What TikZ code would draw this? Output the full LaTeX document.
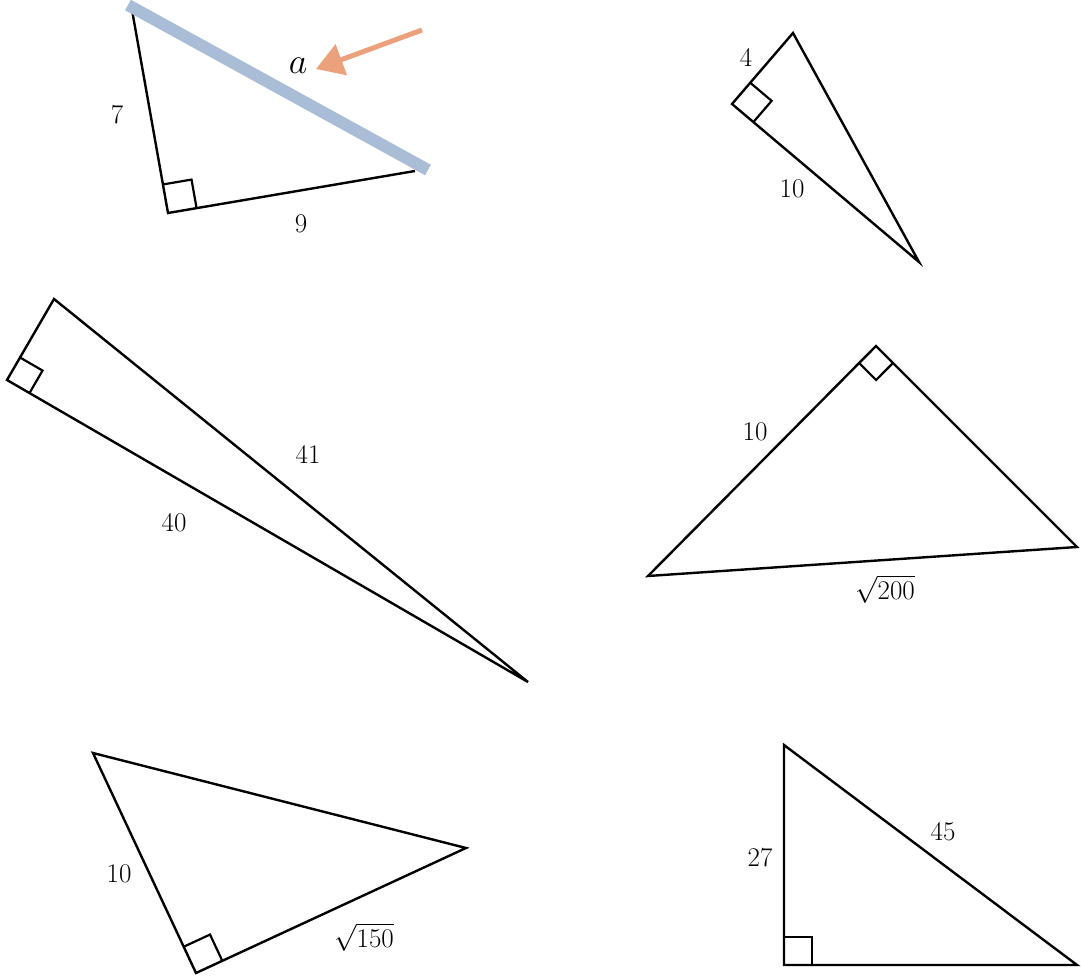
\RequirePackage{fix-cm}
\documentclass[tikz,border=0pt]{standalone}
\usepackage{fontspec}
\usetikzlibrary{calc,arrows.meta}
\definecolor{hyp}{HTML}{A9BDD7}
\definecolor{arr}{HTML}{EBA27C}
\tikzset{
  tri/.style={draw=black,line width=2.4pt,line join=miter},
  rmark/.style={draw=black,line width=2.2pt},
  lbl/.style={font=\fontsize{27}{32}\selectfont,inner sep=0pt},
}
\newcommand{\rtmark}[4]{% vertex, leg1 point, leg2 point, size
  \coordinate (rmA) at ($(#1)!#4!(#2)$);
  \coordinate (rmB) at ($(#1)!#4!(#3)$);
  \draw[rmark] (rmA) -- ($(rmA)+(rmB)-(#1)$) -- (rmB);
}
\begin{document}
\begin{tikzpicture}[x=1pt,y=-1pt]
\useasboundingbox (0,0) rectangle (1081,976);
% Triangle 1
\coordinate (t1a) at (132,10);
\coordinate (t1r) at (168,213);
\coordinate (t1b) at (415,171);
\draw[tri] (t1a) -- (t1r) -- (t1b);
\rtmark{t1r}{t1a}{t1b}{29pt}
\draw[hyp,line width=12pt] (128,5) coordinate (h1) -- (428,170) coordinate (h2);
\node[lbl] (l7) at (117,115) {7};
\node[lbl] (l9) at (301,224) {9};
\node[font=\fontsize{36}{40}\selectfont,inner sep=0pt] (la) at (298,66) {$a$};
\coordinate (arrT) at (422,30);
\coordinate (arrH) at (316,69);
\draw[arr,line width=5pt,-{Triangle[length=27pt,width=32pt]}] (arrT) -- (arrH);
% Triangle 2
\coordinate (t2a) at (793,33);
\coordinate (t2r) at (732,104);
\coordinate (t2b) at (919,262);
\draw[tri] (t2a) -- (t2r) -- (t2b) -- cycle;
\rtmark{t2r}{t2a}{t2b}{28pt}
\node[lbl] (l4) at (746,57) {4};
\node[lbl] (l10a) at (792,189) {10};
% Triangle 3
\coordinate (t3a) at (54,299);
\coordinate (t3r) at (7,380);
\coordinate (t3b) at (528,682);
\draw[tri] (t3a) -- (t3r) -- (t3b) -- cycle;
\rtmark{t3r}{t3a}{t3b}{26pt}
\node[lbl] (l41) at (308,454) {41};
\node[lbl] (l40) at (174,523) {40};
% Triangle 4
\coordinate (t4a) at (648,576);
\coordinate (t4r) at (876,346);
\coordinate (t4b) at (1077,547);
\draw[tri] (t4a) -- (t4r) -- (t4b) -- cycle;
\rtmark{t4r}{t4a}{t4b}{24pt}
\node[lbl] (l10b) at (755,432) {10};
\node[lbl] (ls200) at (885,589) {$\sqrt{200}$};
% Triangle 5
\coordinate (t5a) at (93,753);
\coordinate (t5r) at (196,973);
\coordinate (t5b) at (466,848);
\draw[tri] (t5a) -- (t5r) -- (t5b) -- cycle;
\rtmark{t5r}{t5a}{t5b}{29pt}
\node[lbl] (l10c) at (119,874) {10};
\node[lbl] (ls150) at (364,937) {$\sqrt{150}$};
% Triangle 6
\coordinate (t6a) at (784,745);
\coordinate (t6r) at (784,965);
\coordinate (t6b) at (1077,965);
\draw[tri] (t6a) -- (t6r) -- (t6b) -- cycle;
\rtmark{t6r}{t6a}{t6b}{28pt}
\node[lbl] (l27) at (760,858) {27};
\node[lbl] (l45) at (943,832) {45};
\end{tikzpicture}
\end{document}
